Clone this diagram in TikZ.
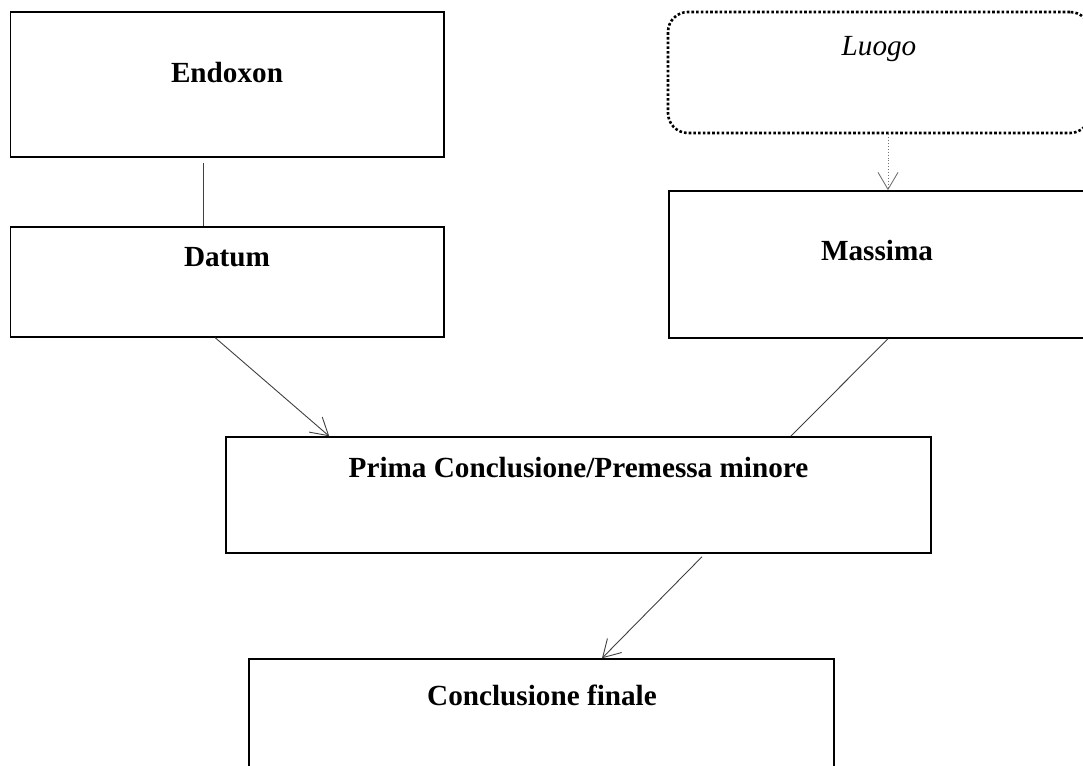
\documentclass[tikz,border=0pt]{standalone}
\usepackage{fontspec}
\setmainfont{Liberation Serif}
\usetikzlibrary{arrows.meta}
\tikzset{
  box/.style={draw, line width=0.75pt, inner sep=0pt},
  dotbox/.style={draw, line width=1.3pt, rounded corners=10pt, dash pattern=on 1.3pt off 1.05pt, inner sep=0pt},
  boxtext/.style={anchor=base, inner sep=0pt, font=\fontsize{14.6}{17}\selectfont\bfseries},
  link/.style={draw=black!75, line width=0.45pt},
  linkarrow/.style={link, -{Straight Barb[length=8.5pt,width=10pt,line width=0.45pt]}},
}
\begin{document}
\begin{tikzpicture}[x=0.5pt, y=-0.5pt]
    \clip (0,0) rectangle (1083,766);
    \node[box, minimum width=216.75pt, minimum height=72.5pt] (endoxon) at (227.25,84.5) {};
    \node[box, minimum width=216.75pt, minimum height=55pt] (datum) at (227.25,282) {};
    \node[dotbox, minimum width=211pt, minimum height=60.5pt] (luogo) at (879,72.5) {};
    \node[box, minimum width=208pt, minimum height=73.5pt] (massima) at (877,264.5) {};
    \node[box, minimum width=352.5pt, minimum height=58pt] (prima) at (578.5,495) {};
    \node[box, minimum width=292.5pt, minimum height=70.5pt] (finale) at (541.5,729.5) {};
    \node[boxtext] (endoxontext) at (227,82) {Endoxon};
    \node[boxtext] (datumtext) at (227,266) {Datum};
    \node[boxtext, font=\fontsize{14.6}{17}\selectfont\itshape] (luogotext) at (879,55) {Luogo};
    \node[boxtext] (massimatext) at (877,260) {Massima};
    \node[boxtext] (primatext) at (578.5,477) {Prima Conclusione/Premessa minore};
    \node[boxtext] (finaletext) at (542,705) {Conclusione finale};
    \draw[link] ([xshift=-12pt,yshift=-2.5pt]endoxon.south) -- ([xshift=-12pt]datum.north);
    \draw[linkarrow] ([xshift=-6pt]datum.south) -- ([xshift=52pt]prima.north west);
    \draw[link] ([xshift=5.5pt]massima.south) -- ([xshift=-70.5pt]prima.north east);
    \draw[linkarrow, draw=black!55, densely dotted] ([xshift=4.5pt]luogo.south) -- ([xshift=5.5pt]massima.north);
    \draw[linkarrow] ([xshift=61.75pt,yshift=-1.5pt]prima.south) -- ([xshift=30.25pt]finale.north);
\end{tikzpicture}
\end{document}
